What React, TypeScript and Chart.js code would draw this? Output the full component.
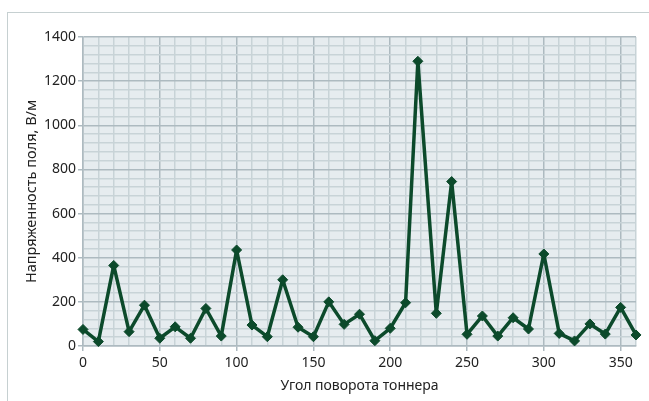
import { useEffect, useRef } from "react";
import { Chart, registerables } from "chart.js";

Chart.register(...registerables);

// Rotation angle of the toner cartridge, degrees
const angles = [
  0, 10, 20, 30, 40, 50, 60, 70, 80, 90, 100, 110, 120, 130, 140, 150, 160, 170,
  180, 190, 200, 210, 218, 230, 240, 250, 260, 270, 280, 290, 300, 310, 320, 330,
  340, 350, 360,
];

// Measured field strength, V/m
const fieldStrength = [
  75, 20, 365, 65, 185, 35, 87, 35, 170, 45, 435, 95, 42, 300, 85, 42, 200, 98,
  144, 24, 80, 196, 1290, 148, 745, 53, 136, 45, 128, 77, 417, 57, 23, 100, 54,
  175, 50,
];

const xTitle = "Угол поворота тоннера";
const yTitle = "Напряженность поля, В/м";

const xMajorStep = 50;
const yMajorStep = 200;

const FONT = "'Noto Sans', 'DejaVu Sans', sans-serif";
const TEXT = "#222222";
const LINE = "#0c4a2b";
const GRID_MINOR = "#c8d3d7";
const GRID_MAJOR = "#adbac0";
const PLOT_BG = "#e6ecef";

const plotBackground = {
  id: "plotBackground",
  beforeDraw(chart: any) {
    const { ctx, chartArea: a } = chart;
    ctx.save();
    ctx.fillStyle = PLOT_BG;
    ctx.fillRect(a.left, a.top, a.right - a.left, a.bottom - a.top);
    ctx.restore();
  },
};

const isMajor = (v: number, step: number) => Math.abs(v % step) < 1e-6;

export default function App() {
  const canvasRef = useRef<HTMLCanvasElement | null>(null);

  useEffect(() => {
    const canvas = canvasRef.current;
    if (!canvas) return;
    const chart = new Chart(canvas, {
      type: "line",
      data: {
        datasets: [
          {
            data: angles.map((a, i) => ({ x: a, y: fieldStrength[i] })),
            borderColor: LINE,
            backgroundColor: LINE,
            borderWidth: 3.5,
            borderJoinStyle: "round",
            tension: 0,
            pointStyle: "rectRot",
            pointRadius: 5,
            pointBackgroundColor: LINE,
            pointBorderColor: LINE,
            pointBorderWidth: 1,
            clip: false as any,
          },
        ],
      },
      options: {
        responsive: false,
        animation: false,
        devicePixelRatio: 1,
        layout: { padding: { left: 0, top: 37, right: 13, bottom: 0 } },
        plugins: {
          legend: { display: false },
          tooltip: { enabled: false },
        },
        scales: {
          x: {
            type: "linear",
            min: 0,
            max: 360,
            ticks: {
              stepSize: 10,
              autoSkip: false,
              maxRotation: 0,
              padding: 4,
              color: TEXT,
              font: { family: FONT, size: 14 },
              callback: (v: any) => (isMajor(Number(v), xMajorStep) ? String(v) : ""),
            },
            grid: {
              color: (c: any) =>
                c.tick && isMajor(c.tick.value, xMajorStep) ? GRID_MAJOR : GRID_MINOR,
              tickColor: (c: any) =>
                c.tick && isMajor(c.tick.value, xMajorStep) ? GRID_MAJOR : "rgba(0,0,0,0)",
              tickLength: 5,
              lineWidth: 1.5,
            },
            border: { color: GRID_MAJOR, width: 1.5 },
            title: {
              display: true,
              text: xTitle,
              color: TEXT,
              font: { family: FONT, size: 14 },
              padding: { top: 0, bottom: 7 },
            },
            afterFit: (s: any) => {
              s.height = 55;
            },
          },
          y: {
            min: 0,
            max: 1400,
            ticks: {
              stepSize: 40,
              autoSkip: false,
              padding: 2,
              color: TEXT,
              font: { family: FONT, size: 14 },
              callback: (v: any) => (isMajor(Number(v), yMajorStep) ? String(v) : ""),
            },
            grid: {
              color: (c: any) =>
                c.tick && isMajor(c.tick.value, yMajorStep) ? GRID_MAJOR : GRID_MINOR,
              tickColor: (c: any) =>
                c.tick && isMajor(c.tick.value, yMajorStep) ? GRID_MAJOR : "rgba(0,0,0,0)",
              tickLength: 5,
              lineWidth: 1.5,
            },
            border: { color: GRID_MAJOR, width: 1.5 },
            title: {
              display: true,
              text: yTitle,
              color: TEXT,
              font: { family: FONT, size: 14.5 },
              padding: { top: 23, bottom: 0 },
            },
            afterFit: (s: any) => {
              s.width = 83;
            },
          },
        },
      },
      plugins: [plotBackground],
    });
    return () => chart.destroy();
  }, []);

  return (
    <div
      style={{
        position: "fixed",
        left: 0,
        top: 0,
        width: 649,
        height: 401,
        overflow: "hidden",
        background: "#ffffff",
      }}
    >
      <div
        style={{
          position: "absolute",
          left: 7,
          top: 12,
          width: 700,
          height: 450,
          borderLeft: "1.5px solid #c6d0d1",
          borderTop: "1.5px solid #c6d0d1",
          boxSizing: "border-box",
        }}
      />
      <canvas
        ref={canvasRef}
        width={649}
        height={401}
        style={{ position: "absolute", left: 0, top: 0, width: 649, height: 401 }}
      />
    </div>
  );
}
